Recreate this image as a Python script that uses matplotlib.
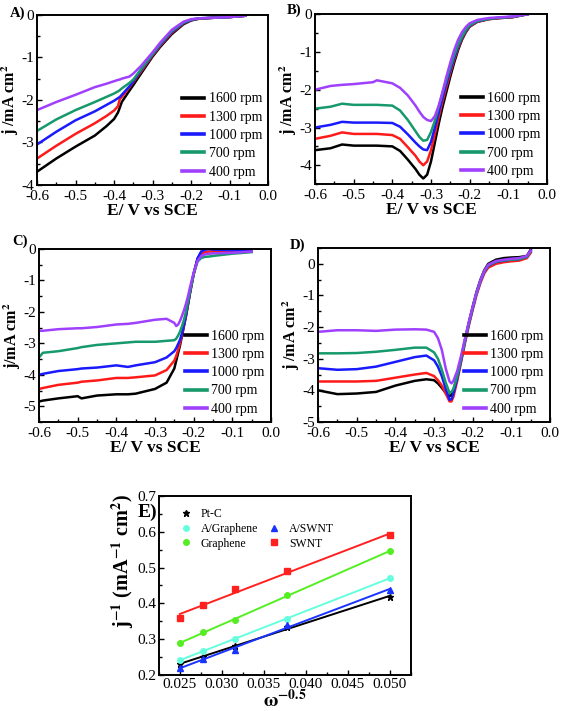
import numpy as np
import matplotlib
matplotlib.use('Agg')
import matplotlib.pyplot as plt
from matplotlib.lines import Line2D
from matplotlib.ticker import MultipleLocator

plt.rcParams['font.family'] = ['Liberation Serif', 'DejaVu Serif']
plt.rcParams['mathtext.fontset'] = 'stix'

rpm_labels = ['1600 rpm', '1300 rpm', '1000 rpm', '700 rpm', '400 rpm']
rpm_colors = ['#000000', '#ff1a1a', '#1a1aff', '#16996b', '#a040ff']

# panel A
a_E = [-0.60, -0.55, -0.50, -0.45, -0.42, -0.40, -0.39, -0.385, -0.38, -0.36, -0.35,
       -0.33, -0.30, -0.28, -0.25, -0.22, -0.20, -0.18, -0.15, -0.10, -0.06]
a_1600 = [-3.69, -3.38, -3.10, -2.84, -2.62, -2.45, -2.30, -2.18, -2.05, -1.78, -1.65,
          -1.38, -0.98, -0.75, -0.45, -0.22, -0.13, -0.09, -0.07, -0.05, -0.02]
a_1300 = [-3.38, -3.08, -2.80, -2.55, -2.38, -2.25, -2.15, -1.98, -1.93, -1.70, -1.58,
          -1.33, -0.95, -0.72, -0.42, -0.20, -0.12, -0.09, -0.07, -0.05, -0.02]
a_1000 = [-3.05, -2.75, -2.48, -2.27, -2.12, -2.02, -1.96, -1.93, -1.88, -1.68, -1.56,
          -1.30, -0.93, -0.70, -0.40, -0.19, -0.12, -0.08, -0.07, -0.05, -0.02]
a_700 = [-2.73, -2.46, -2.24, -2.05, -1.93, -1.85, -1.80, -1.77, -1.73, -1.60, -1.52,
         -1.28, -0.92, -0.68, -0.38, -0.18, -0.11, -0.08, -0.07, -0.05, -0.02]
a_400 = [-2.24, -2.05, -1.88, -1.70, -1.62, -1.56, -1.53, -1.52, -1.50, -1.45, -1.38,
         -1.20, -0.88, -0.65, -0.35, -0.16, -0.10, -0.08, -0.07, -0.05, -0.02]

# panel B
b_E = [-0.60, -0.56, -0.53, -0.50, -0.45, -0.44, -0.40, -0.38, -0.36, -0.34, -0.33, -0.32,
       -0.31, -0.30, -0.29, -0.28, -0.27, -0.26, -0.25, -0.24, -0.23, -0.22, -0.21, -0.20,
       -0.18, -0.15, -0.12, -0.09, -0.05]
b_1600 = [-3.60, -3.55, -3.45, -3.48, -3.48, -3.48, -3.50, -3.62, -3.85, -4.10, -4.25, -4.35,
          -4.25, -3.90, -3.40, -2.90, -2.45, -2.05, -1.65, -1.28, -0.95, -0.68, -0.48, -0.33,
          -0.20, -0.13, -0.10, -0.08, 0.0]
b_1300 = [-3.30, -3.22, -3.13, -3.17, -3.17, -3.17, -3.20, -3.30, -3.52, -3.75, -3.90, -4.00,
          -3.90, -3.60, -3.18, -2.72, -2.30, -1.92, -1.55, -1.20, -0.90, -0.65, -0.46, -0.32,
          -0.20, -0.13, -0.10, -0.08, 0.0]
b_1000 = [-3.00, -2.93, -2.85, -2.87, -2.87, -2.87, -2.88, -2.98, -3.18, -3.40, -3.50, -3.58,
          -3.60, -3.38, -3.00, -2.60, -2.20, -1.83, -1.48, -1.15, -0.86, -0.62, -0.44, -0.30,
          -0.19, -0.12, -0.09, -0.07, 0.0]
b_700 = [-2.50, -2.45, -2.37, -2.40, -2.40, -2.40, -2.42, -2.55, -2.80, -3.10, -3.25, -3.35,
         -3.33, -3.12, -2.82, -2.45, -2.08, -1.73, -1.40, -1.08, -0.82, -0.60, -0.42, -0.29,
         -0.18, -0.12, -0.09, -0.07, 0.0]
b_400 = [-2.00, -1.90, -1.87, -1.85, -1.80, -1.75, -1.83, -1.95, -2.15, -2.42, -2.58, -2.72,
         -2.80, -2.83, -2.70, -2.42, -2.05, -1.65, -1.28, -0.95, -0.68, -0.48, -0.34, -0.24,
         -0.15, -0.10, -0.08, -0.06, 0.0]

# panel C
c_E = [-0.60, -0.59, -0.55, -0.50, -0.49, -0.45, -0.40, -0.37, -0.35, -0.30, -0.27, -0.25,
       -0.245, -0.24, -0.235, -0.23, -0.225, -0.22, -0.215, -0.21, -0.20, -0.19, -0.18,
       -0.17, -0.16, -0.15, -0.10, -0.05]
c_1600 = [-4.85, -4.82, -4.75, -4.68, -4.75, -4.66, -4.62, -4.62, -4.60, -4.45, -4.25, -3.80,
          -3.55, -3.30, -3.05, -2.75, -2.45, -2.15, -1.80, -1.45, -0.80, -0.32, -0.08,
          0.0, 0.0, 0.0, 0.0, 0.0]
c_1300 = [-4.45, -4.42, -4.32, -4.25, -4.22, -4.18, -4.10, -4.10, -4.08, -4.02, -3.85, -3.55,
          -3.40, -3.20, -2.98, -2.72, -2.42, -2.12, -1.78, -1.42, -0.80, -0.35, -0.15,
          -0.10, -0.08, -0.08, -0.07, -0.05]
c_1000 = [-4.00, -3.97, -3.88, -3.82, -3.80, -3.77, -3.70, -3.75, -3.70, -3.60, -3.45, -3.25,
          -3.15, -3.02, -2.88, -2.68, -2.40, -2.10, -1.76, -1.40, -0.78, -0.30, -0.08,
          -0.02, 0.0, -0.02, -0.04, -0.05]
c_700 = [-3.45, -3.30, -3.25, -3.15, -3.12, -3.05, -3.00, -2.97, -2.95, -2.95, -2.92, -2.90,
         -2.85, -2.75, -2.62, -2.45, -2.25, -2.00, -1.70, -1.38, -0.80, -0.40, -0.28,
         -0.25, -0.24, -0.22, -0.15, -0.10]
c_400 = [-2.60, -2.60, -2.55, -2.52, -2.52, -2.48, -2.40, -2.38, -2.35, -2.25, -2.22, -2.35,
         -2.45, -2.40, -2.28, -2.12, -1.95, -1.75, -1.52, -1.25, -0.75, -0.38, -0.22,
         -0.17, -0.15, -0.14, -0.12, -0.08]

# panel D
d_E = [-0.60, -0.55, -0.50, -0.45, -0.40, -0.35, -0.32, -0.30, -0.29, -0.28, -0.27, -0.26,
       -0.255, -0.25, -0.24, -0.23, -0.22, -0.21, -0.20, -0.19, -0.18, -0.17, -0.16, -0.14,
       -0.12, -0.10, -0.08, -0.06, -0.05]
d_1600 = [-4.00, -4.12, -4.10, -4.05, -3.85, -3.70, -3.65, -3.68, -3.78, -3.92, -4.08, -4.18,
          -4.15, -4.00, -3.55, -3.00, -2.40, -1.85, -1.35, -0.88, -0.50, -0.20, 0.00, 0.13,
          0.18, 0.20, 0.21, 0.25, 0.45]
d_1300 = [-3.72, -3.72, -3.72, -3.70, -3.60, -3.50, -3.45, -3.55, -3.68, -3.85, -4.10, -4.35,
          -4.35, -4.20, -3.70, -3.10, -2.50, -1.95, -1.45, -0.98, -0.60, -0.30, -0.12, 0.0,
          0.05, 0.08, 0.10, 0.18, 0.35]
d_1000 = [-3.30, -3.35, -3.33, -3.25, -3.10, -2.95, -2.90, -3.05, -3.25, -3.55, -3.95, -4.30,
          -4.28, -4.10, -3.62, -3.05, -2.45, -1.90, -1.40, -0.93, -0.55, -0.25, -0.06, 0.06,
          0.10, 0.13, 0.15, 0.22, 0.40]
d_700 = [-2.83, -2.83, -2.82, -2.78, -2.72, -2.65, -2.65, -2.80, -3.00, -3.35, -3.75, -4.08,
         -4.05, -3.95, -3.55, -3.00, -2.42, -1.88, -1.38, -0.92, -0.53, -0.24, -0.05, 0.07,
         0.11, 0.13, 0.15, 0.22, 0.40]
d_400 = [-2.15, -2.10, -2.10, -2.12, -2.08, -2.07, -2.08, -2.15, -2.35, -2.72, -3.30, -3.72,
         -3.78, -3.70, -3.38, -2.90, -2.35, -1.83, -1.35, -0.90, -0.52, -0.22, -0.03, 0.09,
         0.13, 0.16, 0.18, 0.25, 0.42]

# panel E (Koutecky-Levich)
omega = [0.025, 0.0277, 0.0316, 0.0378, 0.050]
ptc = [0.230, 0.250, 0.280, 0.335, 0.418]
a_graphene = [0.242, 0.268, 0.300, 0.355, 0.472]
a_swnt = [0.218, 0.245, 0.270, 0.340, 0.438]
graphene = [0.290, 0.320, 0.352, 0.422, 0.547]
swnt = [0.360, 0.395, 0.440, 0.490, 0.590]


def rde_panel(rect, E, curves, ylim, yticks, ylabel, tag, tagpos):
    ax = fig.add_axes(rect)
    for j, lab, col in zip(curves, rpm_labels, rpm_colors):
        ax.plot(E, j, color=col, lw=1.8, label=lab)
    ax.set_xlim(-0.6, 0.0)
    ax.set_ylim(*ylim)
    ax.set_xticks([-0.6, -0.5, -0.4, -0.3, -0.2, -0.1, 0.0])
    ax.set_xticklabels(['-0.6', '-0.5', '-0.4', '-0.3', '-0.2', '-0.1', '0.0'])
    ax.set_yticks(yticks)
    ax.set_yticklabels([str(int(t)) for t in yticks])
    ax.xaxis.set_minor_locator(MultipleLocator(0.05))
    ax.yaxis.set_minor_locator(MultipleLocator(0.5))
    ax.tick_params(which='both', direction='in', labelsize=11, pad=2)
    ax.tick_params(axis='x', which='major', pad=3.5)
    ax.tick_params(which='major', length=3.5, width=1)
    ax.tick_params(which='minor', length=2, width=1)
    for s in ax.spines.values():
        s.set_linewidth(1.4)
    ax.set_xlabel('E/ V vs SCE', fontsize=12.5, fontweight='bold', labelpad=0)
    ax.set_ylabel(ylabel, fontsize=11.5, fontweight='bold')
    ax.yaxis.set_label_coords(-0.068, 0.5)
    leg = ax.legend(loc='lower right', frameon=False, fontsize=10, handlelength=1.6,
                    handletextpad=0.3, labelspacing=0.38, borderaxespad=0.05)
    for h in leg.get_lines():
        h.set_linewidth(2.6)
    fig.text(tagpos[0], tagpos[1], tag, fontsize=10.5, fontweight='bold',
             ha='left', va='center')
    return ax


fig = plt.figure(figsize=(5.61, 7.11), dpi=100)

rde_panel([0.066, 0.740, 0.412, 0.239], a_E, [a_1600, a_1300, a_1000, a_700, a_400],
          (-4, 0), [-4, -3, -2, -1, 0], r'j /mA cm$^{\mathbf{2}}$', 'A)', (0.018, 0.982))
rde_panel([0.5615, 0.741, 0.4135, 0.239], b_E, [b_1600, b_1300, b_1000, b_700, b_400],
          (-4.5, 0), [-4, -3, -2, -1, 0], r'j /mA cm$^{\mathbf{2}}$', 'B)', (0.512, 0.985))
rde_panel([0.0695, 0.4065, 0.4135, 0.2433], c_E, [c_1600, c_1300, c_1000, c_700, c_400],
          (-5.5, 0), [-5, -4, -3, -2, -1, 0], r'j/mA cm$^{\mathbf{2}}$', 'C)', (0.022, 0.660))
rde_panel([0.567, 0.4065, 0.4135, 0.2447], d_E, [d_1600, d_1300, d_1000, d_700, d_400],
          (-5, 0.5), [-5, -4, -3, -2, -1, 0], r'j /mA cm$^{\mathbf{2}}$', 'D)', (0.517, 0.655))

# panel E
ax = fig.add_axes([0.2834, 0.0508, 0.449, 0.2516])
series = [
    ('Pt-C', ptc, '#000000', '*', 5),
    ('A/Graphene', a_graphene, '#66ffdd', 'o', 4),
    ('Graphene', graphene, '#55ee22', 'o', 4),
    ('A/SWNT', a_swnt, '#1a33ff', '^', 4.5),
    ('SWNT', swnt, '#ff2020', 's', 4),
]
handles = {}
xs = np.array(omega)
for lab, ys, col, mk, ms in series:
    k, b = np.polyfit(omega, ys, 1)
    ax.plot(xs, k * xs + b, color=col, lw=1.4)
    ax.plot(omega, ys, ls='none', marker=mk, color=col, ms=ms)
    handles[lab] = Line2D([], [], ls='none', marker=mk, color=col, ms=ms)
blank = Line2D([], [], ls='none')
ax.legend([handles['Pt-C'], handles['A/Graphene'], handles['Graphene'], blank,
           handles['A/SWNT'], handles['SWNT']],
          ['Pt-C', 'A/Graphene', 'Graphene', '', 'A/SWNT', 'SWNT'],
          ncol=2, loc='upper left', frameon=False, fontsize=8.5, handlelength=1.5,
          handletextpad=0.5, labelspacing=0.22, columnspacing=0.6,
          bbox_to_anchor=(0.03, 0.99))
ax.set_xlim(0.0225, 0.0525)
ax.set_ylim(0.2, 0.7)
ax.set_xticks([0.025, 0.030, 0.035, 0.040, 0.045, 0.050])
ax.set_xticklabels(['0.025', '0.030', '0.035', '0.040', '0.045', '0.050'])
ax.set_yticks([0.2, 0.3, 0.4, 0.5, 0.6, 0.7])
ax.set_yticklabels(['0.2', '0.3', '0.4', '0.5', '0.6', '0.7'])
ax.xaxis.set_minor_locator(MultipleLocator(0.0025))
ax.yaxis.set_minor_locator(MultipleLocator(0.05))
ax.tick_params(which='both', direction='in', labelsize=11, pad=2)
ax.tick_params(which='major', length=3.5, width=1)
ax.tick_params(which='minor', length=2, width=1)
for s in ax.spines.values():
    s.set_linewidth(1.4)
ax.set_xlabel(r'$\mathbf{\omega}^{\mathbf{-0.5}}$', fontsize=14, labelpad=-1)
ax.set_ylabel(r'j$^{\mathbf{-1}}$ (mA$^{\mathbf{-1}}$ cm$^{\mathbf{2}}$)', fontsize=14.5,
              fontweight='bold')
ax.yaxis.set_label_coords(-0.09, 0.64)
fig.text(0.246, 0.279, 'E)', fontsize=14, fontweight='bold', ha='left', va='center')

fig.savefig('out.png', dpi=100)
